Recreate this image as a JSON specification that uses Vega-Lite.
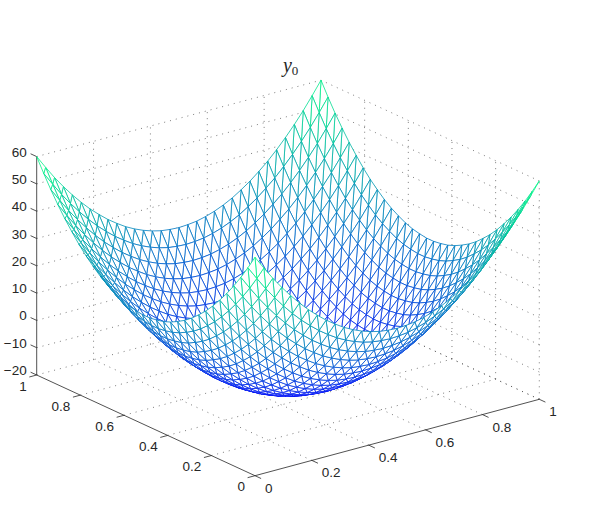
{"$schema":"https://vega.github.io/schema/vega-lite/v6.json","width":598,"height":532,"autosize":"none","padding":0,"background":"white","view":{"stroke":null},
"datasets":{
"lines":[
{"k":"g","u":0.2,"v":0,"w":-20,"u2":0.2,"v2":1,"w2":-20},{"k":"g","u":0.4,"v":0,"w":-20,"u2":0.4,"v2":1,"w2":-20},{"k":"g","u":0.6,"v":0,"w":-20,"u2":0.6,"v2":1,"w2":-20},{"k":"g","u":0.8,"v":0,"w":-20,"u2":0.8,"v2":1,"w2":-20},{"k":"g","u":1,"v":0,"w":-20,"u2":1,"v2":1,"w2":-20},
{"k":"g","u":0,"v":0.2,"w":-20,"u2":1,"v2":0.2,"w2":-20},{"k":"g","u":0,"v":0.4,"w":-20,"u2":1,"v2":0.4,"w2":-20},{"k":"g","u":0,"v":0.6,"w":-20,"u2":1,"v2":0.6,"w2":-20},{"k":"g","u":0,"v":0.8,"w":-20,"u2":1,"v2":0.8,"w2":-20},{"k":"g","u":0,"v":1,"w":-20,"u2":1,"v2":1,"w2":-20},
{"k":"g","u":0.2,"v":1,"w":-20,"u2":0.2,"v2":1,"w2":60},{"k":"g","u":0.4,"v":1,"w":-20,"u2":0.4,"v2":1,"w2":60},{"k":"g","u":0.6,"v":1,"w":-20,"u2":0.6,"v2":1,"w2":60},{"k":"g","u":0.8,"v":1,"w":-20,"u2":0.8,"v2":1,"w2":60},{"k":"g","u":1,"v":1,"w":-20,"u2":1,"v2":1,"w2":60},
{"k":"g","u":1,"v":0,"w":-20,"u2":1,"v2":0,"w2":60},{"k":"g","u":1,"v":0.2,"w":-20,"u2":1,"v2":0.2,"w2":60},{"k":"g","u":1,"v":0.4,"w":-20,"u2":1,"v2":0.4,"w2":60},{"k":"g","u":1,"v":0.6,"w":-20,"u2":1,"v2":0.6,"w2":60},{"k":"g","u":1,"v":0.8,"w":-20,"u2":1,"v2":0.8,"w2":60},
{"k":"g","u":0,"v":1,"w":-10,"u2":1,"v2":1,"w2":-10},{"k":"g","u":0,"v":1,"w":0,"u2":1,"v2":1,"w2":0},{"k":"g","u":0,"v":1,"w":10,"u2":1,"v2":1,"w2":10},{"k":"g","u":0,"v":1,"w":20,"u2":1,"v2":1,"w2":20},{"k":"g","u":0,"v":1,"w":30,"u2":1,"v2":1,"w2":30},{"k":"g","u":0,"v":1,"w":40,"u2":1,"v2":1,"w2":40},{"k":"g","u":0,"v":1,"w":50,"u2":1,"v2":1,"w2":50},{"k":"g","u":0,"v":1,"w":60,"u2":1,"v2":1,"w2":60},
{"k":"g","u":1,"v":0,"w":-20,"u2":1,"v2":1,"w2":-20},{"k":"g","u":1,"v":0,"w":-10,"u2":1,"v2":1,"w2":-10},{"k":"g","u":1,"v":0,"w":0,"u2":1,"v2":1,"w2":0},{"k":"g","u":1,"v":0,"w":10,"u2":1,"v2":1,"w2":10},{"k":"g","u":1,"v":0,"w":20,"u2":1,"v2":1,"w2":20},{"k":"g","u":1,"v":0,"w":30,"u2":1,"v2":1,"w2":30},{"k":"g","u":1,"v":0,"w":40,"u2":1,"v2":1,"w2":40},{"k":"g","u":1,"v":0,"w":50,"u2":1,"v2":1,"w2":50},{"k":"g","u":1,"v":0,"w":60,"u2":1,"v2":1,"w2":60},
{"k":"a","u":0,"v":0,"w":-20,"u2":1,"v2":0,"w2":-20},{"k":"a","u":0,"v":0,"w":-20,"u2":0,"v2":1,"w2":-20},{"k":"a","u":0,"v":1,"w":-20,"u2":0,"v2":1,"w2":60},
{"k":"a","u":0,"v":0,"w":-20,"u2":0,"v2":-0.028,"w2":-20},{"k":"a","u":0.2,"v":0,"w":-20,"u2":0.2,"v2":-0.028,"w2":-20},{"k":"a","u":0.4,"v":0,"w":-20,"u2":0.4,"v2":-0.028,"w2":-20},{"k":"a","u":0.6,"v":0,"w":-20,"u2":0.6,"v2":-0.028,"w2":-20},{"k":"a","u":0.8,"v":0,"w":-20,"u2":0.8,"v2":-0.028,"w2":-20},{"k":"a","u":1,"v":0,"w":-20,"u2":1,"v2":-0.028,"w2":-20},
{"k":"a","u":0,"v":0,"w":-20,"u2":-0.026,"v2":0,"w2":-20},{"k":"a","u":0,"v":0.2,"w":-20,"u2":-0.026,"v2":0.2,"w2":-20},{"k":"a","u":0,"v":0.4,"w":-20,"u2":-0.026,"v2":0.4,"w2":-20},{"k":"a","u":0,"v":0.6,"w":-20,"u2":-0.026,"v2":0.6,"w2":-20},{"k":"a","u":0,"v":0.8,"w":-20,"u2":-0.026,"v2":0.8,"w2":-20},{"k":"a","u":0,"v":1,"w":-20,"u2":-0.026,"v2":1,"w2":-20},
{"k":"a","u":0,"v":1,"w":-20,"u2":0,"v2":1.028,"w2":-20},{"k":"a","u":0,"v":1,"w":-10,"u2":0,"v2":1.028,"w2":-10},{"k":"a","u":0,"v":1,"w":0,"u2":0,"v2":1.028,"w2":0},{"k":"a","u":0,"v":1,"w":10,"u2":0,"v2":1.028,"w2":10},{"k":"a","u":0,"v":1,"w":20,"u2":0,"v2":1.028,"w2":20},{"k":"a","u":0,"v":1,"w":30,"u2":0,"v2":1.028,"w2":30},{"k":"a","u":0,"v":1,"w":40,"u2":0,"v2":1.028,"w2":40},{"k":"a","u":0,"v":1,"w":50,"u2":0,"v2":1.028,"w2":50},{"k":"a","u":0,"v":1,"w":60,"u2":0,"v2":1.028,"w2":60}
],
"labels":[
{"axis":"x","t":"0","u":0,"v":0,"w":-20},{"axis":"x","t":"0.2","u":0.2,"v":0,"w":-20},{"axis":"x","t":"0.4","u":0.4,"v":0,"w":-20},{"axis":"x","t":"0.6","u":0.6,"v":0,"w":-20},{"axis":"x","t":"0.8","u":0.8,"v":0,"w":-20},{"axis":"x","t":"1","u":1,"v":0,"w":-20},
{"axis":"y","t":"0","u":0,"v":0,"w":-20},{"axis":"y","t":"0.2","u":0,"v":0.2,"w":-20},{"axis":"y","t":"0.4","u":0,"v":0.4,"w":-20},{"axis":"y","t":"0.6","u":0,"v":0.6,"w":-20},{"axis":"y","t":"0.8","u":0,"v":0.8,"w":-20},{"axis":"y","t":"1","u":0,"v":1,"w":-20},
{"axis":"z","t":"−20","u":0,"v":1,"w":-20},{"axis":"z","t":"−10","u":0,"v":1,"w":-10},{"axis":"z","t":"0","u":0,"v":1,"w":0},{"axis":"z","t":"10","u":0,"v":1,"w":10},{"axis":"z","t":"20","u":0,"v":1,"w":20},{"axis":"z","t":"30","u":0,"v":1,"w":30},{"axis":"z","t":"40","u":0,"v":1,"w":40},{"axis":"z","t":"50","u":0,"v":1,"w":50},{"axis":"z","t":"60","u":0,"v":1,"w":60},
{"axis":"t","t":"y","u":1,"v":1,"w":66},{"axis":"s","t":"0","u":1,"v":1,"w":66}
],
"grid":[
{"i":32,"j":31,"z":60},{"i":32,"j":30,"z":55},{"i":32,"j":29,"z":50.3},{"i":32,"j":28,"z":46},{"i":32,"j":27,"z":42},{"i":32,"j":26,"z":38.4},{"i":32,"j":25,"z":35},{"i":32,"j":24,"z":32},{"i":32,"j":23,"z":29.4},{"i":32,"j":22,"z":27},{"i":32,"j":21,"z":25},{"i":32,"j":20,"z":23.4},{"i":32,"j":19,"z":22},{"i":32,"j":18,"z":21},{"i":32,"j":17,"z":20.4},{"i":32,"j":16,"z":20},{"i":32,"j":15,"z":20},{"i":32,"j":14,"z":20.4},{"i":32,"j":13,"z":21},{"i":32,"j":12,"z":22},{"i":32,"j":11,"z":23.4},{"i":32,"j":10,"z":25},{"i":32,"j":9,"z":27},{"i":32,"j":8,"z":29.4},{"i":32,"j":7,"z":32},{"i":32,"j":6,"z":35},{"i":32,"j":5,"z":38.4},{"i":32,"j":4,"z":42},{"i":32,"j":3,"z":46},{"i":32,"j":2,"z":50.3},{"i":32,"j":1,"z":55},{"i":32,"j":0,"z":60},
{"i":31,"j":31,"z":55.2},{"i":31,"j":30,"z":50.2},{"i":31,"j":29,"z":45.5},{"i":31,"j":28,"z":41.2},{"i":31,"j":27,"z":37.2},{"i":31,"j":26,"z":33.6},{"i":31,"j":25,"z":30.2},{"i":31,"j":24,"z":27.2},{"i":31,"j":23,"z":24.6},{"i":31,"j":22,"z":22.2},{"i":31,"j":21,"z":20.2},{"i":31,"j":20,"z":18.6},{"i":31,"j":19,"z":17.2},{"i":31,"j":18,"z":16.2},{"i":31,"j":17,"z":15.6},{"i":31,"j":16,"z":15.2},{"i":31,"j":15,"z":15.2},{"i":31,"j":14,"z":15.6},{"i":31,"j":13,"z":16.2},{"i":31,"j":12,"z":17.2},{"i":31,"j":11,"z":18.6},{"i":31,"j":10,"z":20.2},{"i":31,"j":9,"z":22.2},{"i":31,"j":8,"z":24.6},{"i":31,"j":7,"z":27.2},{"i":31,"j":6,"z":30.2},{"i":31,"j":5,"z":33.6},{"i":31,"j":4,"z":37.2},{"i":31,"j":3,"z":41.2},{"i":31,"j":2,"z":45.5},{"i":31,"j":1,"z":50.2},{"i":31,"j":0,"z":55.2},
{"i":30,"j":31,"z":50.6},{"i":30,"j":30,"z":45.6},{"i":30,"j":29,"z":40.9},{"i":30,"j":28,"z":36.6},{"i":30,"j":27,"z":32.6},{"i":30,"j":26,"z":29},{"i":30,"j":25,"z":25.6},{"i":30,"j":24,"z":22.6},{"i":30,"j":23,"z":20},{"i":30,"j":22,"z":17.6},{"i":30,"j":21,"z":15.6},{"i":30,"j":20,"z":14},{"i":30,"j":19,"z":12.6},{"i":30,"j":18,"z":11.6},{"i":30,"j":17,"z":11},{"i":30,"j":16,"z":10.6},{"i":30,"j":15,"z":10.6},{"i":30,"j":14,"z":11},{"i":30,"j":13,"z":11.6},{"i":30,"j":12,"z":12.6},{"i":30,"j":11,"z":14},{"i":30,"j":10,"z":15.6},{"i":30,"j":9,"z":17.6},{"i":30,"j":8,"z":20},{"i":30,"j":7,"z":22.6},{"i":30,"j":6,"z":25.6},{"i":30,"j":5,"z":29},{"i":30,"j":4,"z":32.6},{"i":30,"j":3,"z":36.6},{"i":30,"j":2,"z":40.9},{"i":30,"j":1,"z":45.6},{"i":30,"j":0,"z":50.6},
{"i":29,"j":31,"z":46.4},{"i":29,"j":30,"z":41.4},{"i":29,"j":29,"z":36.7},{"i":29,"j":28,"z":32.4},{"i":29,"j":27,"z":28.4},{"i":29,"j":26,"z":24.8},{"i":29,"j":25,"z":21.4},{"i":29,"j":24,"z":18.4},{"i":29,"j":23,"z":15.8},{"i":29,"j":22,"z":13.4},{"i":29,"j":21,"z":11.4},{"i":29,"j":20,"z":9.8},{"i":29,"j":19,"z":8.4},{"i":29,"j":18,"z":7.4},{"i":29,"j":17,"z":6.8},{"i":29,"j":16,"z":6.4},{"i":29,"j":15,"z":6.4},{"i":29,"j":14,"z":6.8},{"i":29,"j":13,"z":7.4},{"i":29,"j":12,"z":8.4},{"i":29,"j":11,"z":9.8},{"i":29,"j":10,"z":11.4},{"i":29,"j":9,"z":13.4},{"i":29,"j":8,"z":15.8},{"i":29,"j":7,"z":18.4},{"i":29,"j":6,"z":21.4},{"i":29,"j":5,"z":24.8},{"i":29,"j":4,"z":28.4},{"i":29,"j":3,"z":32.4},{"i":29,"j":2,"z":36.7},{"i":29,"j":1,"z":41.4},{"i":29,"j":0,"z":46.4},
{"i":28,"j":31,"z":42.5},{"i":28,"j":30,"z":37.5},{"i":28,"j":29,"z":32.8},{"i":28,"j":28,"z":28.5},{"i":28,"j":27,"z":24.5},{"i":28,"j":26,"z":20.9},{"i":28,"j":25,"z":17.5},{"i":28,"j":24,"z":14.5},{"i":28,"j":23,"z":11.9},{"i":28,"j":22,"z":9.5},{"i":28,"j":21,"z":7.5},{"i":28,"j":20,"z":5.9},{"i":28,"j":19,"z":4.5},{"i":28,"j":18,"z":3.5},{"i":28,"j":17,"z":2.9},{"i":28,"j":16,"z":2.5},{"i":28,"j":15,"z":2.5},{"i":28,"j":14,"z":2.9},{"i":28,"j":13,"z":3.5},{"i":28,"j":12,"z":4.5},{"i":28,"j":11,"z":5.9},{"i":28,"j":10,"z":7.5},{"i":28,"j":9,"z":9.5},{"i":28,"j":8,"z":11.9},{"i":28,"j":7,"z":14.5},{"i":28,"j":6,"z":17.5},{"i":28,"j":5,"z":20.9},{"i":28,"j":4,"z":24.5},{"i":28,"j":3,"z":28.5},{"i":28,"j":2,"z":32.8},{"i":28,"j":1,"z":37.5},{"i":28,"j":0,"z":42.5},
{"i":27,"j":31,"z":38.9},{"i":27,"j":30,"z":33.9},{"i":27,"j":29,"z":29.2},{"i":27,"j":28,"z":24.9},{"i":27,"j":27,"z":20.9},{"i":27,"j":26,"z":17.3},{"i":27,"j":25,"z":13.9},{"i":27,"j":24,"z":10.9},{"i":27,"j":23,"z":8.3},{"i":27,"j":22,"z":5.9},{"i":27,"j":21,"z":3.9},{"i":27,"j":20,"z":2.3},{"i":27,"j":19,"z":0.9},{"i":27,"j":18,"z":-0.1},{"i":27,"j":17,"z":-0.7},{"i":27,"j":16,"z":-1.1},{"i":27,"j":15,"z":-1.1},{"i":27,"j":14,"z":-0.7},{"i":27,"j":13,"z":-0.1},{"i":27,"j":12,"z":0.9},{"i":27,"j":11,"z":2.3},{"i":27,"j":10,"z":3.9},{"i":27,"j":9,"z":5.9},{"i":27,"j":8,"z":8.3},{"i":27,"j":7,"z":10.9},{"i":27,"j":6,"z":13.9},{"i":27,"j":5,"z":17.3},{"i":27,"j":4,"z":20.9},{"i":27,"j":3,"z":24.9},{"i":27,"j":2,"z":29.2},{"i":27,"j":1,"z":33.9},{"i":27,"j":0,"z":38.9},
{"i":26,"j":31,"z":35.6},{"i":26,"j":30,"z":30.6},{"i":26,"j":29,"z":25.9},{"i":26,"j":28,"z":21.6},{"i":26,"j":27,"z":17.6},{"i":26,"j":26,"z":14},{"i":26,"j":25,"z":10.6},{"i":26,"j":24,"z":7.6},{"i":26,"j":23,"z":5},{"i":26,"j":22,"z":2.6},{"i":26,"j":21,"z":0.6},{"i":26,"j":20,"z":-1},{"i":26,"j":19,"z":-2.4},{"i":26,"j":18,"z":-3.4},{"i":26,"j":17,"z":-4},{"i":26,"j":16,"z":-4.4},{"i":26,"j":15,"z":-4.4},{"i":26,"j":14,"z":-4},{"i":26,"j":13,"z":-3.4},{"i":26,"j":12,"z":-2.4},{"i":26,"j":11,"z":-1},{"i":26,"j":10,"z":0.6},{"i":26,"j":9,"z":2.6},{"i":26,"j":8,"z":5},{"i":26,"j":7,"z":7.6},{"i":26,"j":6,"z":10.6},{"i":26,"j":5,"z":14},{"i":26,"j":4,"z":17.6},{"i":26,"j":3,"z":21.6},{"i":26,"j":2,"z":25.9},{"i":26,"j":1,"z":30.6},{"i":26,"j":0,"z":35.6},
{"i":25,"j":31,"z":32.7},{"i":25,"j":30,"z":27.7},{"i":25,"j":29,"z":23},{"i":25,"j":28,"z":18.7},{"i":25,"j":27,"z":14.7},{"i":25,"j":26,"z":11.1},{"i":25,"j":25,"z":7.7},{"i":25,"j":24,"z":4.7},{"i":25,"j":23,"z":2.1},{"i":25,"j":22,"z":-0.3},{"i":25,"j":21,"z":-2.3},{"i":25,"j":20,"z":-3.9},{"i":25,"j":19,"z":-5.3},{"i":25,"j":18,"z":-6.3},{"i":25,"j":17,"z":-6.9},{"i":25,"j":16,"z":-7.3},{"i":25,"j":15,"z":-7.3},{"i":25,"j":14,"z":-6.9},{"i":25,"j":13,"z":-6.3},{"i":25,"j":12,"z":-5.3},{"i":25,"j":11,"z":-3.9},{"i":25,"j":10,"z":-2.3},{"i":25,"j":9,"z":-0.3},{"i":25,"j":8,"z":2.1},{"i":25,"j":7,"z":4.7},{"i":25,"j":6,"z":7.7},{"i":25,"j":5,"z":11.1},{"i":25,"j":4,"z":14.7},{"i":25,"j":3,"z":18.7},{"i":25,"j":2,"z":23},{"i":25,"j":1,"z":27.7},{"i":25,"j":0,"z":32.7},
{"i":24,"j":31,"z":30},{"i":24,"j":30,"z":25},{"i":24,"j":29,"z":20.3},{"i":24,"j":28,"z":16},{"i":24,"j":27,"z":12},{"i":24,"j":26,"z":8.4},{"i":24,"j":25,"z":5},{"i":24,"j":24,"z":2},{"i":24,"j":23,"z":-0.6},{"i":24,"j":22,"z":-3},{"i":24,"j":21,"z":-5},{"i":24,"j":20,"z":-6.6},{"i":24,"j":19,"z":-8},{"i":24,"j":18,"z":-9},{"i":24,"j":17,"z":-9.6},{"i":24,"j":16,"z":-10},{"i":24,"j":15,"z":-10},{"i":24,"j":14,"z":-9.6},{"i":24,"j":13,"z":-9},{"i":24,"j":12,"z":-8},{"i":24,"j":11,"z":-6.6},{"i":24,"j":10,"z":-5},{"i":24,"j":9,"z":-3},{"i":24,"j":8,"z":-0.6},{"i":24,"j":7,"z":2},{"i":24,"j":6,"z":5},{"i":24,"j":5,"z":8.4},{"i":24,"j":4,"z":12},{"i":24,"j":3,"z":16},{"i":24,"j":2,"z":20.3},{"i":24,"j":1,"z":25},{"i":24,"j":0,"z":30},
{"i":23,"j":31,"z":27.7},{"i":23,"j":30,"z":22.7},{"i":23,"j":29,"z":18},{"i":23,"j":28,"z":13.7},{"i":23,"j":27,"z":9.7},{"i":23,"j":26,"z":6.1},{"i":23,"j":25,"z":2.7},{"i":23,"j":24,"z":-0.3},{"i":23,"j":23,"z":-2.9},{"i":23,"j":22,"z":-5.3},{"i":23,"j":21,"z":-7.3},{"i":23,"j":20,"z":-8.9},{"i":23,"j":19,"z":-10.3},{"i":23,"j":18,"z":-11.3},{"i":23,"j":17,"z":-11.9},{"i":23,"j":16,"z":-12.3},{"i":23,"j":15,"z":-12.3},{"i":23,"j":14,"z":-11.9},{"i":23,"j":13,"z":-11.3},{"i":23,"j":12,"z":-10.3},{"i":23,"j":11,"z":-8.9},{"i":23,"j":10,"z":-7.3},{"i":23,"j":9,"z":-5.3},{"i":23,"j":8,"z":-2.9},{"i":23,"j":7,"z":-0.3},{"i":23,"j":6,"z":2.7},{"i":23,"j":5,"z":6.1},{"i":23,"j":4,"z":9.7},{"i":23,"j":3,"z":13.7},{"i":23,"j":2,"z":18},{"i":23,"j":1,"z":22.7},{"i":23,"j":0,"z":27.7},
{"i":22,"j":31,"z":25.6},{"i":22,"j":30,"z":20.6},{"i":22,"j":29,"z":15.9},{"i":22,"j":28,"z":11.6},{"i":22,"j":27,"z":7.6},{"i":22,"j":26,"z":4},{"i":22,"j":25,"z":0.6},{"i":22,"j":24,"z":-2.4},{"i":22,"j":23,"z":-5},{"i":22,"j":22,"z":-7.4},{"i":22,"j":21,"z":-9.4},{"i":22,"j":20,"z":-11},{"i":22,"j":19,"z":-12.4},{"i":22,"j":18,"z":-13.4},{"i":22,"j":17,"z":-14},{"i":22,"j":16,"z":-14.4},{"i":22,"j":15,"z":-14.4},{"i":22,"j":14,"z":-14},{"i":22,"j":13,"z":-13.4},{"i":22,"j":12,"z":-12.4},{"i":22,"j":11,"z":-11},{"i":22,"j":10,"z":-9.4},{"i":22,"j":9,"z":-7.4},{"i":22,"j":8,"z":-5},{"i":22,"j":7,"z":-2.4},{"i":22,"j":6,"z":0.6},{"i":22,"j":5,"z":4},{"i":22,"j":4,"z":7.6},{"i":22,"j":3,"z":11.6},{"i":22,"j":2,"z":15.9},{"i":22,"j":1,"z":20.6},{"i":22,"j":0,"z":25.6},
{"i":21,"j":31,"z":23.9},{"i":21,"j":30,"z":18.9},{"i":21,"j":29,"z":14.2},{"i":21,"j":28,"z":9.9},{"i":21,"j":27,"z":5.9},{"i":21,"j":26,"z":2.3},{"i":21,"j":25,"z":-1.1},{"i":21,"j":24,"z":-4.1},{"i":21,"j":23,"z":-6.7},{"i":21,"j":22,"z":-9.1},{"i":21,"j":21,"z":-11.1},{"i":21,"j":20,"z":-12.7},{"i":21,"j":19,"z":-14.1},{"i":21,"j":18,"z":-15.1},{"i":21,"j":17,"z":-15.7},{"i":21,"j":16,"z":-16.1},{"i":21,"j":15,"z":-16.1},{"i":21,"j":14,"z":-15.7},{"i":21,"j":13,"z":-15.1},{"i":21,"j":12,"z":-14.1},{"i":21,"j":11,"z":-12.7},{"i":21,"j":10,"z":-11.1},{"i":21,"j":9,"z":-9.1},{"i":21,"j":8,"z":-6.7},{"i":21,"j":7,"z":-4.1},{"i":21,"j":6,"z":-1.1},{"i":21,"j":5,"z":2.3},{"i":21,"j":4,"z":5.9},{"i":21,"j":3,"z":9.9},{"i":21,"j":2,"z":14.2},{"i":21,"j":1,"z":18.9},{"i":21,"j":0,"z":23.9},
{"i":20,"j":31,"z":22.5},{"i":20,"j":30,"z":17.5},{"i":20,"j":29,"z":12.8},{"i":20,"j":28,"z":8.5},{"i":20,"j":27,"z":4.5},{"i":20,"j":26,"z":0.9},{"i":20,"j":25,"z":-2.5},{"i":20,"j":24,"z":-5.5},{"i":20,"j":23,"z":-8.1},{"i":20,"j":22,"z":-10.5},{"i":20,"j":21,"z":-12.5},{"i":20,"j":20,"z":-14.1},{"i":20,"j":19,"z":-15.5},{"i":20,"j":18,"z":-16.5},{"i":20,"j":17,"z":-17.1},{"i":20,"j":16,"z":-17.5},{"i":20,"j":15,"z":-17.5},{"i":20,"j":14,"z":-17.1},{"i":20,"j":13,"z":-16.5},{"i":20,"j":12,"z":-15.5},{"i":20,"j":11,"z":-14.1},{"i":20,"j":10,"z":-12.5},{"i":20,"j":9,"z":-10.5},{"i":20,"j":8,"z":-8.1},{"i":20,"j":7,"z":-5.5},{"i":20,"j":6,"z":-2.5},{"i":20,"j":5,"z":0.9},{"i":20,"j":4,"z":4.5},{"i":20,"j":3,"z":8.5},{"i":20,"j":2,"z":12.8},{"i":20,"j":1,"z":17.5},{"i":20,"j":0,"z":22.5},
{"i":19,"j":31,"z":21.4},{"i":19,"j":30,"z":16.4},{"i":19,"j":29,"z":11.7},{"i":19,"j":28,"z":7.4},{"i":19,"j":27,"z":3.4},{"i":19,"j":26,"z":-0.2},{"i":19,"j":25,"z":-3.6},{"i":19,"j":24,"z":-6.6},{"i":19,"j":23,"z":-9.2},{"i":19,"j":22,"z":-11.6},{"i":19,"j":21,"z":-13.6},{"i":19,"j":20,"z":-15.2},{"i":19,"j":19,"z":-16.6},{"i":19,"j":18,"z":-17.6},{"i":19,"j":17,"z":-18.2},{"i":19,"j":16,"z":-18.6},{"i":19,"j":15,"z":-18.6},{"i":19,"j":14,"z":-18.2},{"i":19,"j":13,"z":-17.6},{"i":19,"j":12,"z":-16.6},{"i":19,"j":11,"z":-15.2},{"i":19,"j":10,"z":-13.6},{"i":19,"j":9,"z":-11.6},{"i":19,"j":8,"z":-9.2},{"i":19,"j":7,"z":-6.6},{"i":19,"j":6,"z":-3.6},{"i":19,"j":5,"z":-0.2},{"i":19,"j":4,"z":3.4},{"i":19,"j":3,"z":7.4},{"i":19,"j":2,"z":11.7},{"i":19,"j":1,"z":16.4},{"i":19,"j":0,"z":21.4},
{"i":18,"j":31,"z":20.6},{"i":18,"j":30,"z":15.6},{"i":18,"j":29,"z":10.9},{"i":18,"j":28,"z":6.6},{"i":18,"j":27,"z":2.6},{"i":18,"j":26,"z":-1},{"i":18,"j":25,"z":-4.4},{"i":18,"j":24,"z":-7.4},{"i":18,"j":23,"z":-10},{"i":18,"j":22,"z":-12.4},{"i":18,"j":21,"z":-14.4},{"i":18,"j":20,"z":-16},{"i":18,"j":19,"z":-17.4},{"i":18,"j":18,"z":-18.4},{"i":18,"j":17,"z":-19},{"i":18,"j":16,"z":-19.4},{"i":18,"j":15,"z":-19.4},{"i":18,"j":14,"z":-19},{"i":18,"j":13,"z":-18.4},{"i":18,"j":12,"z":-17.4},{"i":18,"j":11,"z":-16},{"i":18,"j":10,"z":-14.4},{"i":18,"j":9,"z":-12.4},{"i":18,"j":8,"z":-10},{"i":18,"j":7,"z":-7.4},{"i":18,"j":6,"z":-4.4},{"i":18,"j":5,"z":-1},{"i":18,"j":4,"z":2.6},{"i":18,"j":3,"z":6.6},{"i":18,"j":2,"z":10.9},{"i":18,"j":1,"z":15.6},{"i":18,"j":0,"z":20.6},
{"i":17,"j":31,"z":20.2},{"i":17,"j":30,"z":15.2},{"i":17,"j":29,"z":10.5},{"i":17,"j":28,"z":6.2},{"i":17,"j":27,"z":2.2},{"i":17,"j":26,"z":-1.4},{"i":17,"j":25,"z":-4.8},{"i":17,"j":24,"z":-7.8},{"i":17,"j":23,"z":-10.4},{"i":17,"j":22,"z":-12.8},{"i":17,"j":21,"z":-14.8},{"i":17,"j":20,"z":-16.4},{"i":17,"j":19,"z":-17.8},{"i":17,"j":18,"z":-18.8},{"i":17,"j":17,"z":-19.4},{"i":17,"j":16,"z":-19.8},{"i":17,"j":15,"z":-19.8},{"i":17,"j":14,"z":-19.4},{"i":17,"j":13,"z":-18.8},{"i":17,"j":12,"z":-17.8},{"i":17,"j":11,"z":-16.4},{"i":17,"j":10,"z":-14.8},{"i":17,"j":9,"z":-12.8},{"i":17,"j":8,"z":-10.4},{"i":17,"j":7,"z":-7.8},{"i":17,"j":6,"z":-4.8},{"i":17,"j":5,"z":-1.4},{"i":17,"j":4,"z":2.2},{"i":17,"j":3,"z":6.2},{"i":17,"j":2,"z":10.5},{"i":17,"j":1,"z":15.2},{"i":17,"j":0,"z":20.2},
{"i":16,"j":31,"z":20},{"i":16,"j":30,"z":15},{"i":16,"j":29,"z":10.3},{"i":16,"j":28,"z":6},{"i":16,"j":27,"z":2},{"i":16,"j":26,"z":-1.6},{"i":16,"j":25,"z":-5},{"i":16,"j":24,"z":-8},{"i":16,"j":23,"z":-10.6},{"i":16,"j":22,"z":-13},{"i":16,"j":21,"z":-15},{"i":16,"j":20,"z":-16.6},{"i":16,"j":19,"z":-18},{"i":16,"j":18,"z":-19},{"i":16,"j":17,"z":-19.6},{"i":16,"j":16,"z":-20},{"i":16,"j":15,"z":-20},{"i":16,"j":14,"z":-19.6},{"i":16,"j":13,"z":-19},{"i":16,"j":12,"z":-18},{"i":16,"j":11,"z":-16.6},{"i":16,"j":10,"z":-15},{"i":16,"j":9,"z":-13},{"i":16,"j":8,"z":-10.6},{"i":16,"j":7,"z":-8},{"i":16,"j":6,"z":-5},{"i":16,"j":5,"z":-1.6},{"i":16,"j":4,"z":2},{"i":16,"j":3,"z":6},{"i":16,"j":2,"z":10.3},{"i":16,"j":1,"z":15},{"i":16,"j":0,"z":20},
{"i":15,"j":31,"z":20.2},{"i":15,"j":30,"z":15.2},{"i":15,"j":29,"z":10.5},{"i":15,"j":28,"z":6.2},{"i":15,"j":27,"z":2.2},{"i":15,"j":26,"z":-1.4},{"i":15,"j":25,"z":-4.8},{"i":15,"j":24,"z":-7.8},{"i":15,"j":23,"z":-10.4},{"i":15,"j":22,"z":-12.8},{"i":15,"j":21,"z":-14.8},{"i":15,"j":20,"z":-16.4},{"i":15,"j":19,"z":-17.8},{"i":15,"j":18,"z":-18.8},{"i":15,"j":17,"z":-19.4},{"i":15,"j":16,"z":-19.8},{"i":15,"j":15,"z":-19.8},{"i":15,"j":14,"z":-19.4},{"i":15,"j":13,"z":-18.8},{"i":15,"j":12,"z":-17.8},{"i":15,"j":11,"z":-16.4},{"i":15,"j":10,"z":-14.8},{"i":15,"j":9,"z":-12.8},{"i":15,"j":8,"z":-10.4},{"i":15,"j":7,"z":-7.8},{"i":15,"j":6,"z":-4.8},{"i":15,"j":5,"z":-1.4},{"i":15,"j":4,"z":2.2},{"i":15,"j":3,"z":6.2},{"i":15,"j":2,"z":10.5},{"i":15,"j":1,"z":15.2},{"i":15,"j":0,"z":20.2},
{"i":14,"j":31,"z":20.6},{"i":14,"j":30,"z":15.6},{"i":14,"j":29,"z":10.9},{"i":14,"j":28,"z":6.6},{"i":14,"j":27,"z":2.6},{"i":14,"j":26,"z":-1},{"i":14,"j":25,"z":-4.4},{"i":14,"j":24,"z":-7.4},{"i":14,"j":23,"z":-10},{"i":14,"j":22,"z":-12.4},{"i":14,"j":21,"z":-14.4},{"i":14,"j":20,"z":-16},{"i":14,"j":19,"z":-17.4},{"i":14,"j":18,"z":-18.4},{"i":14,"j":17,"z":-19},{"i":14,"j":16,"z":-19.4},{"i":14,"j":15,"z":-19.4},{"i":14,"j":14,"z":-19},{"i":14,"j":13,"z":-18.4},{"i":14,"j":12,"z":-17.4},{"i":14,"j":11,"z":-16},{"i":14,"j":10,"z":-14.4},{"i":14,"j":9,"z":-12.4},{"i":14,"j":8,"z":-10},{"i":14,"j":7,"z":-7.4},{"i":14,"j":6,"z":-4.4},{"i":14,"j":5,"z":-1},{"i":14,"j":4,"z":2.6},{"i":14,"j":3,"z":6.6},{"i":14,"j":2,"z":10.9},{"i":14,"j":1,"z":15.6},{"i":14,"j":0,"z":20.6},
{"i":13,"j":31,"z":21.4},{"i":13,"j":30,"z":16.4},{"i":13,"j":29,"z":11.7},{"i":13,"j":28,"z":7.4},{"i":13,"j":27,"z":3.4},{"i":13,"j":26,"z":-0.2},{"i":13,"j":25,"z":-3.6},{"i":13,"j":24,"z":-6.6},{"i":13,"j":23,"z":-9.2},{"i":13,"j":22,"z":-11.6},{"i":13,"j":21,"z":-13.6},{"i":13,"j":20,"z":-15.2},{"i":13,"j":19,"z":-16.6},{"i":13,"j":18,"z":-17.6},{"i":13,"j":17,"z":-18.2},{"i":13,"j":16,"z":-18.6},{"i":13,"j":15,"z":-18.6},{"i":13,"j":14,"z":-18.2},{"i":13,"j":13,"z":-17.6},{"i":13,"j":12,"z":-16.6},{"i":13,"j":11,"z":-15.2},{"i":13,"j":10,"z":-13.6},{"i":13,"j":9,"z":-11.6},{"i":13,"j":8,"z":-9.2},{"i":13,"j":7,"z":-6.6},{"i":13,"j":6,"z":-3.6},{"i":13,"j":5,"z":-0.2},{"i":13,"j":4,"z":3.4},{"i":13,"j":3,"z":7.4},{"i":13,"j":2,"z":11.7},{"i":13,"j":1,"z":16.4},{"i":13,"j":0,"z":21.4},
{"i":12,"j":31,"z":22.5},{"i":12,"j":30,"z":17.5},{"i":12,"j":29,"z":12.8},{"i":12,"j":28,"z":8.5},{"i":12,"j":27,"z":4.5},{"i":12,"j":26,"z":0.9},{"i":12,"j":25,"z":-2.5},{"i":12,"j":24,"z":-5.5},{"i":12,"j":23,"z":-8.1},{"i":12,"j":22,"z":-10.5},{"i":12,"j":21,"z":-12.5},{"i":12,"j":20,"z":-14.1},{"i":12,"j":19,"z":-15.5},{"i":12,"j":18,"z":-16.5},{"i":12,"j":17,"z":-17.1},{"i":12,"j":16,"z":-17.5},{"i":12,"j":15,"z":-17.5},{"i":12,"j":14,"z":-17.1},{"i":12,"j":13,"z":-16.5},{"i":12,"j":12,"z":-15.5},{"i":12,"j":11,"z":-14.1},{"i":12,"j":10,"z":-12.5},{"i":12,"j":9,"z":-10.5},{"i":12,"j":8,"z":-8.1},{"i":12,"j":7,"z":-5.5},{"i":12,"j":6,"z":-2.5},{"i":12,"j":5,"z":0.9},{"i":12,"j":4,"z":4.5},{"i":12,"j":3,"z":8.5},{"i":12,"j":2,"z":12.8},{"i":12,"j":1,"z":17.5},{"i":12,"j":0,"z":22.5},
{"i":11,"j":31,"z":23.9},{"i":11,"j":30,"z":18.9},{"i":11,"j":29,"z":14.2},{"i":11,"j":28,"z":9.9},{"i":11,"j":27,"z":5.9},{"i":11,"j":26,"z":2.3},{"i":11,"j":25,"z":-1.1},{"i":11,"j":24,"z":-4.1},{"i":11,"j":23,"z":-6.7},{"i":11,"j":22,"z":-9.1},{"i":11,"j":21,"z":-11.1},{"i":11,"j":20,"z":-12.7},{"i":11,"j":19,"z":-14.1},{"i":11,"j":18,"z":-15.1},{"i":11,"j":17,"z":-15.7},{"i":11,"j":16,"z":-16.1},{"i":11,"j":15,"z":-16.1},{"i":11,"j":14,"z":-15.7},{"i":11,"j":13,"z":-15.1},{"i":11,"j":12,"z":-14.1},{"i":11,"j":11,"z":-12.7},{"i":11,"j":10,"z":-11.1},{"i":11,"j":9,"z":-9.1},{"i":11,"j":8,"z":-6.7},{"i":11,"j":7,"z":-4.1},{"i":11,"j":6,"z":-1.1},{"i":11,"j":5,"z":2.3},{"i":11,"j":4,"z":5.9},{"i":11,"j":3,"z":9.9},{"i":11,"j":2,"z":14.2},{"i":11,"j":1,"z":18.9},{"i":11,"j":0,"z":23.9},
{"i":10,"j":31,"z":25.6},{"i":10,"j":30,"z":20.6},{"i":10,"j":29,"z":15.9},{"i":10,"j":28,"z":11.6},{"i":10,"j":27,"z":7.6},{"i":10,"j":26,"z":4},{"i":10,"j":25,"z":0.6},{"i":10,"j":24,"z":-2.4},{"i":10,"j":23,"z":-5},{"i":10,"j":22,"z":-7.4},{"i":10,"j":21,"z":-9.4},{"i":10,"j":20,"z":-11},{"i":10,"j":19,"z":-12.4},{"i":10,"j":18,"z":-13.4},{"i":10,"j":17,"z":-14},{"i":10,"j":16,"z":-14.4},{"i":10,"j":15,"z":-14.4},{"i":10,"j":14,"z":-14},{"i":10,"j":13,"z":-13.4},{"i":10,"j":12,"z":-12.4},{"i":10,"j":11,"z":-11},{"i":10,"j":10,"z":-9.4},{"i":10,"j":9,"z":-7.4},{"i":10,"j":8,"z":-5},{"i":10,"j":7,"z":-2.4},{"i":10,"j":6,"z":0.6},{"i":10,"j":5,"z":4},{"i":10,"j":4,"z":7.6},{"i":10,"j":3,"z":11.6},{"i":10,"j":2,"z":15.9},{"i":10,"j":1,"z":20.6},{"i":10,"j":0,"z":25.6},
{"i":9,"j":31,"z":27.7},{"i":9,"j":30,"z":22.7},{"i":9,"j":29,"z":18},{"i":9,"j":28,"z":13.7},{"i":9,"j":27,"z":9.7},{"i":9,"j":26,"z":6.1},{"i":9,"j":25,"z":2.7},{"i":9,"j":24,"z":-0.3},{"i":9,"j":23,"z":-2.9},{"i":9,"j":22,"z":-5.3},{"i":9,"j":21,"z":-7.3},{"i":9,"j":20,"z":-8.9},{"i":9,"j":19,"z":-10.3},{"i":9,"j":18,"z":-11.3},{"i":9,"j":17,"z":-11.9},{"i":9,"j":16,"z":-12.3},{"i":9,"j":15,"z":-12.3},{"i":9,"j":14,"z":-11.9},{"i":9,"j":13,"z":-11.3},{"i":9,"j":12,"z":-10.3},{"i":9,"j":11,"z":-8.9},{"i":9,"j":10,"z":-7.3},{"i":9,"j":9,"z":-5.3},{"i":9,"j":8,"z":-2.9},{"i":9,"j":7,"z":-0.3},{"i":9,"j":6,"z":2.7},{"i":9,"j":5,"z":6.1},{"i":9,"j":4,"z":9.7},{"i":9,"j":3,"z":13.7},{"i":9,"j":2,"z":18},{"i":9,"j":1,"z":22.7},{"i":9,"j":0,"z":27.7},
{"i":8,"j":31,"z":30},{"i":8,"j":30,"z":25},{"i":8,"j":29,"z":20.3},{"i":8,"j":28,"z":16},{"i":8,"j":27,"z":12},{"i":8,"j":26,"z":8.4},{"i":8,"j":25,"z":5},{"i":8,"j":24,"z":2},{"i":8,"j":23,"z":-0.6},{"i":8,"j":22,"z":-3},{"i":8,"j":21,"z":-5},{"i":8,"j":20,"z":-6.6},{"i":8,"j":19,"z":-8},{"i":8,"j":18,"z":-9},{"i":8,"j":17,"z":-9.6},{"i":8,"j":16,"z":-10},{"i":8,"j":15,"z":-10},{"i":8,"j":14,"z":-9.6},{"i":8,"j":13,"z":-9},{"i":8,"j":12,"z":-8},{"i":8,"j":11,"z":-6.6},{"i":8,"j":10,"z":-5},{"i":8,"j":9,"z":-3},{"i":8,"j":8,"z":-0.6},{"i":8,"j":7,"z":2},{"i":8,"j":6,"z":5},{"i":8,"j":5,"z":8.4},{"i":8,"j":4,"z":12},{"i":8,"j":3,"z":16},{"i":8,"j":2,"z":20.3},{"i":8,"j":1,"z":25},{"i":8,"j":0,"z":30},
{"i":7,"j":31,"z":32.7},{"i":7,"j":30,"z":27.7},{"i":7,"j":29,"z":23},{"i":7,"j":28,"z":18.7},{"i":7,"j":27,"z":14.7},{"i":7,"j":26,"z":11.1},{"i":7,"j":25,"z":7.7},{"i":7,"j":24,"z":4.7},{"i":7,"j":23,"z":2.1},{"i":7,"j":22,"z":-0.3},{"i":7,"j":21,"z":-2.3},{"i":7,"j":20,"z":-3.9},{"i":7,"j":19,"z":-5.3},{"i":7,"j":18,"z":-6.3},{"i":7,"j":17,"z":-6.9},{"i":7,"j":16,"z":-7.3},{"i":7,"j":15,"z":-7.3},{"i":7,"j":14,"z":-6.9},{"i":7,"j":13,"z":-6.3},{"i":7,"j":12,"z":-5.3},{"i":7,"j":11,"z":-3.9},{"i":7,"j":10,"z":-2.3},{"i":7,"j":9,"z":-0.3},{"i":7,"j":8,"z":2.1},{"i":7,"j":7,"z":4.7},{"i":7,"j":6,"z":7.7},{"i":7,"j":5,"z":11.1},{"i":7,"j":4,"z":14.7},{"i":7,"j":3,"z":18.7},{"i":7,"j":2,"z":23},{"i":7,"j":1,"z":27.7},{"i":7,"j":0,"z":32.7},
{"i":6,"j":31,"z":35.6},{"i":6,"j":30,"z":30.6},{"i":6,"j":29,"z":25.9},{"i":6,"j":28,"z":21.6},{"i":6,"j":27,"z":17.6},{"i":6,"j":26,"z":14},{"i":6,"j":25,"z":10.6},{"i":6,"j":24,"z":7.6},{"i":6,"j":23,"z":5},{"i":6,"j":22,"z":2.6},{"i":6,"j":21,"z":0.6},{"i":6,"j":20,"z":-1},{"i":6,"j":19,"z":-2.4},{"i":6,"j":18,"z":-3.4},{"i":6,"j":17,"z":-4},{"i":6,"j":16,"z":-4.4},{"i":6,"j":15,"z":-4.4},{"i":6,"j":14,"z":-4},{"i":6,"j":13,"z":-3.4},{"i":6,"j":12,"z":-2.4},{"i":6,"j":11,"z":-1},{"i":6,"j":10,"z":0.6},{"i":6,"j":9,"z":2.6},{"i":6,"j":8,"z":5},{"i":6,"j":7,"z":7.6},{"i":6,"j":6,"z":10.6},{"i":6,"j":5,"z":14},{"i":6,"j":4,"z":17.6},{"i":6,"j":3,"z":21.6},{"i":6,"j":2,"z":25.9},{"i":6,"j":1,"z":30.6},{"i":6,"j":0,"z":35.6},
{"i":5,"j":31,"z":38.9},{"i":5,"j":30,"z":33.9},{"i":5,"j":29,"z":29.2},{"i":5,"j":28,"z":24.9},{"i":5,"j":27,"z":20.9},{"i":5,"j":26,"z":17.3},{"i":5,"j":25,"z":13.9},{"i":5,"j":24,"z":10.9},{"i":5,"j":23,"z":8.3},{"i":5,"j":22,"z":5.9},{"i":5,"j":21,"z":3.9},{"i":5,"j":20,"z":2.3},{"i":5,"j":19,"z":0.9},{"i":5,"j":18,"z":-0.1},{"i":5,"j":17,"z":-0.7},{"i":5,"j":16,"z":-1.1},{"i":5,"j":15,"z":-1.1},{"i":5,"j":14,"z":-0.7},{"i":5,"j":13,"z":-0.1},{"i":5,"j":12,"z":0.9},{"i":5,"j":11,"z":2.3},{"i":5,"j":10,"z":3.9},{"i":5,"j":9,"z":5.9},{"i":5,"j":8,"z":8.3},{"i":5,"j":7,"z":10.9},{"i":5,"j":6,"z":13.9},{"i":5,"j":5,"z":17.3},{"i":5,"j":4,"z":20.9},{"i":5,"j":3,"z":24.9},{"i":5,"j":2,"z":29.2},{"i":5,"j":1,"z":33.9},{"i":5,"j":0,"z":38.9},
{"i":4,"j":31,"z":42.5},{"i":4,"j":30,"z":37.5},{"i":4,"j":29,"z":32.8},{"i":4,"j":28,"z":28.5},{"i":4,"j":27,"z":24.5},{"i":4,"j":26,"z":20.9},{"i":4,"j":25,"z":17.5},{"i":4,"j":24,"z":14.5},{"i":4,"j":23,"z":11.9},{"i":4,"j":22,"z":9.5},{"i":4,"j":21,"z":7.5},{"i":4,"j":20,"z":5.9},{"i":4,"j":19,"z":4.5},{"i":4,"j":18,"z":3.5},{"i":4,"j":17,"z":2.9},{"i":4,"j":16,"z":2.5},{"i":4,"j":15,"z":2.5},{"i":4,"j":14,"z":2.9},{"i":4,"j":13,"z":3.5},{"i":4,"j":12,"z":4.5},{"i":4,"j":11,"z":5.9},{"i":4,"j":10,"z":7.5},{"i":4,"j":9,"z":9.5},{"i":4,"j":8,"z":11.9},{"i":4,"j":7,"z":14.5},{"i":4,"j":6,"z":17.5},{"i":4,"j":5,"z":20.9},{"i":4,"j":4,"z":24.5},{"i":4,"j":3,"z":28.5},{"i":4,"j":2,"z":32.8},{"i":4,"j":1,"z":37.5},{"i":4,"j":0,"z":42.5},
{"i":3,"j":31,"z":46.4},{"i":3,"j":30,"z":41.4},{"i":3,"j":29,"z":36.7},{"i":3,"j":28,"z":32.4},{"i":3,"j":27,"z":28.4},{"i":3,"j":26,"z":24.8},{"i":3,"j":25,"z":21.4},{"i":3,"j":24,"z":18.4},{"i":3,"j":23,"z":15.8},{"i":3,"j":22,"z":13.4},{"i":3,"j":21,"z":11.4},{"i":3,"j":20,"z":9.8},{"i":3,"j":19,"z":8.4},{"i":3,"j":18,"z":7.4},{"i":3,"j":17,"z":6.8},{"i":3,"j":16,"z":6.4},{"i":3,"j":15,"z":6.4},{"i":3,"j":14,"z":6.8},{"i":3,"j":13,"z":7.4},{"i":3,"j":12,"z":8.4},{"i":3,"j":11,"z":9.8},{"i":3,"j":10,"z":11.4},{"i":3,"j":9,"z":13.4},{"i":3,"j":8,"z":15.8},{"i":3,"j":7,"z":18.4},{"i":3,"j":6,"z":21.4},{"i":3,"j":5,"z":24.8},{"i":3,"j":4,"z":28.4},{"i":3,"j":3,"z":32.4},{"i":3,"j":2,"z":36.7},{"i":3,"j":1,"z":41.4},{"i":3,"j":0,"z":46.4},
{"i":2,"j":31,"z":50.6},{"i":2,"j":30,"z":45.6},{"i":2,"j":29,"z":40.9},{"i":2,"j":28,"z":36.6},{"i":2,"j":27,"z":32.6},{"i":2,"j":26,"z":29},{"i":2,"j":25,"z":25.6},{"i":2,"j":24,"z":22.6},{"i":2,"j":23,"z":20},{"i":2,"j":22,"z":17.6},{"i":2,"j":21,"z":15.6},{"i":2,"j":20,"z":14},{"i":2,"j":19,"z":12.6},{"i":2,"j":18,"z":11.6},{"i":2,"j":17,"z":11},{"i":2,"j":16,"z":10.6},{"i":2,"j":15,"z":10.6},{"i":2,"j":14,"z":11},{"i":2,"j":13,"z":11.6},{"i":2,"j":12,"z":12.6},{"i":2,"j":11,"z":14},{"i":2,"j":10,"z":15.6},{"i":2,"j":9,"z":17.6},{"i":2,"j":8,"z":20},{"i":2,"j":7,"z":22.6},{"i":2,"j":6,"z":25.6},{"i":2,"j":5,"z":29},{"i":2,"j":4,"z":32.6},{"i":2,"j":3,"z":36.6},{"i":2,"j":2,"z":40.9},{"i":2,"j":1,"z":45.6},{"i":2,"j":0,"z":50.6},
{"i":1,"j":31,"z":55.2},{"i":1,"j":30,"z":50.2},{"i":1,"j":29,"z":45.5},{"i":1,"j":28,"z":41.2},{"i":1,"j":27,"z":37.2},{"i":1,"j":26,"z":33.6},{"i":1,"j":25,"z":30.2},{"i":1,"j":24,"z":27.2},{"i":1,"j":23,"z":24.6},{"i":1,"j":22,"z":22.2},{"i":1,"j":21,"z":20.2},{"i":1,"j":20,"z":18.6},{"i":1,"j":19,"z":17.2},{"i":1,"j":18,"z":16.2},{"i":1,"j":17,"z":15.6},{"i":1,"j":16,"z":15.2},{"i":1,"j":15,"z":15.2},{"i":1,"j":14,"z":15.6},{"i":1,"j":13,"z":16.2},{"i":1,"j":12,"z":17.2},{"i":1,"j":11,"z":18.6},{"i":1,"j":10,"z":20.2},{"i":1,"j":9,"z":22.2},{"i":1,"j":8,"z":24.6},{"i":1,"j":7,"z":27.2},{"i":1,"j":6,"z":30.2},{"i":1,"j":5,"z":33.6},{"i":1,"j":4,"z":37.2},{"i":1,"j":3,"z":41.2},{"i":1,"j":2,"z":45.5},{"i":1,"j":1,"z":50.2},{"i":1,"j":0,"z":55.2},
{"i":0,"j":31,"z":60},{"i":0,"j":30,"z":55},{"i":0,"j":29,"z":50.3},{"i":0,"j":28,"z":46},{"i":0,"j":27,"z":42},{"i":0,"j":26,"z":38.4},{"i":0,"j":25,"z":35},{"i":0,"j":24,"z":32},{"i":0,"j":23,"z":29.4},{"i":0,"j":22,"z":27},{"i":0,"j":21,"z":25},{"i":0,"j":20,"z":23.4},{"i":0,"j":19,"z":22},{"i":0,"j":18,"z":21},{"i":0,"j":17,"z":20.4},{"i":0,"j":16,"z":20},{"i":0,"j":15,"z":20},{"i":0,"j":14,"z":20.4},{"i":0,"j":13,"z":21},{"i":0,"j":12,"z":22},{"i":0,"j":11,"z":23.4},{"i":0,"j":10,"z":25},{"i":0,"j":9,"z":27},{"i":0,"j":8,"z":29.4},{"i":0,"j":7,"z":32},{"i":0,"j":6,"z":35},{"i":0,"j":5,"z":38.4},{"i":0,"j":4,"z":42},{"i":0,"j":3,"z":46},{"i":0,"j":2,"z":50.3},{"i":0,"j":1,"z":55},{"i":0,"j":0,"z":60}
]},
"encoding":{
"x":{"field":"sx","type":"quantitative","axis":null,"scale":{"domain":[0,598]}},
"y":{"field":"sy","type":"quantitative","axis":null,"scale":{"domain":[532,0]}}},
"layer":[
{"data":{"name":"lines"},"transform":[{"filter":"datum.k=='g'"},
{"calculate":"255+284.3*datum.u-218.3*datum.v","as":"sx"},{"calculate":"475.7-76.4*datum.u-100.7*datum.v-2.73*(datum.w+20)","as":"sy"},
{"calculate":"255+284.3*datum.u2-218.3*datum.v2","as":"sx2"},{"calculate":"475.7-76.4*datum.u2-100.7*datum.v2-2.73*(datum.w2+20)","as":"sy2"}],
"mark":{"type":"rule","stroke":"#444444","strokeWidth":0.7,"strokeDash":[1,5]},
"encoding":{"x2":{"field":"sx2"},"y2":{"field":"sy2"}}},
{"data":{"name":"lines"},"transform":[{"filter":"datum.k=='a'"},
{"calculate":"255+284.3*datum.u-218.3*datum.v","as":"sx"},{"calculate":"475.7-76.4*datum.u-100.7*datum.v-2.73*(datum.w+20)","as":"sy"},
{"calculate":"255+284.3*datum.u2-218.3*datum.v2","as":"sx2"},{"calculate":"475.7-76.4*datum.u2-100.7*datum.v2-2.73*(datum.w2+20)","as":"sy2"}],
"mark":{"type":"rule","stroke":"#262626","strokeWidth":0.8},
"encoding":{"x2":{"field":"sx2"},"y2":{"field":"sy2"}}},
{"data":{"name":"grid"},"transform":[
{"calculate":"[(datum.i<32&&datum.j<31)?(datum.i*100+datum.j)*20:-1,(datum.i<32&&datum.j<31)?(datum.i*100+datum.j)*20+3:-1,(datum.i<32&&datum.j<31)?(datum.i*100+datum.j)*20+10:-1,(datum.i<32&&datum.j<31)?(datum.i*100+datum.j)*20+13:-1,(datum.i>0&&datum.j<31)?((datum.i-1)*100+datum.j)*20+1:-1,(datum.i>0&&datum.j>0)?((datum.i-1)*100+datum.j-1)*20+2:-1,(datum.i>0&&datum.j>0)?((datum.i-1)*100+datum.j-1)*20+11:-1,(datum.j>0&&datum.i<32)?(datum.i*100+datum.j-1)*20+12:-1]","as":"t"},
{"flatten":["t"]},{"filter":"datum.t>=0"},
{"calculate":"floor(datum.t/10)","as":"tri"},{"calculate":"datum.t%10","as":"k"},
{"joinaggregate":[{"op":"mean","field":"z","as":"mz"}],"groupby":["tri"]},
{"calculate":"255+284.3*datum.i/32-218.3*datum.j/31","as":"sx"},{"calculate":"475.7-76.4*datum.i/32-100.7*datum.j/31-2.73*(datum.z+20)","as":"sy"}],
"mark":{"type":"line","fill":"white","strokeWidth":0.8,"strokeJoin":"round","interpolate":"linear"},
"encoding":{"detail":{"field":"tri","type":"nominal"},"order":{"field":"k","type":"quantitative"},
"stroke":{"field":"mz","type":"quantitative","legend":null,"scale":{"domain":[-20,60],"range":["#0000ff","#00ff80"],"interpolate":"rgb"}}}},
{"data":{"name":"labels"},"transform":[{"filter":"datum.axis=='x'"},{"calculate":"255+284.3*datum.u-218.3*datum.v","as":"sx"},{"calculate":"475.7-76.4*datum.u-100.7*datum.v-2.73*(datum.w+20)","as":"sy"}],
"mark":{"type":"text","font":"Liberation Sans","fontSize":13.5,"align":"left","baseline":"middle","dx":10,"dy":13,"fill":"#262626"},"encoding":{"text":{"field":"t"}}},
{"data":{"name":"labels"},"transform":[{"filter":"datum.axis=='y'"},{"calculate":"255+284.3*datum.u-218.3*datum.v","as":"sx"},{"calculate":"475.7-76.4*datum.u-100.7*datum.v-2.73*(datum.w+20)","as":"sy"}],
"mark":{"type":"text","font":"Liberation Sans","fontSize":13.5,"align":"right","baseline":"middle","dx":-10,"dy":11.5,"fill":"#262626"},"encoding":{"text":{"field":"t"}}},
{"data":{"name":"labels"},"transform":[{"filter":"datum.axis=='z'"},{"calculate":"255+284.3*datum.u-218.3*datum.v","as":"sx"},{"calculate":"475.7-76.4*datum.u-100.7*datum.v-2.73*(datum.w+20)","as":"sy"}],
"mark":{"type":"text","font":"Liberation Sans","fontSize":13.5,"align":"right","baseline":"middle","dx":-10,"dy":-4,"fill":"#262626"},"encoding":{"text":{"field":"t"}}},
{"data":{"name":"labels"},"transform":[{"filter":"datum.axis=='t'"},{"calculate":"255+284.3*datum.u-218.3*datum.v","as":"sx"},{"calculate":"475.7-76.4*datum.u-100.7*datum.v-2.73*(datum.w+20)","as":"sy"}],
"mark":{"type":"text","font":"Liberation Serif","fontStyle":"italic","fontSize":20,"align":"center","baseline":"alphabetic","dx":-33.5,"dy":8,"fill":"#262626"},"encoding":{"text":{"field":"t"}}},
{"data":{"name":"labels"},"transform":[{"filter":"datum.axis=='s'"},{"calculate":"255+284.3*datum.u-218.3*datum.v","as":"sx"},{"calculate":"475.7-76.4*datum.u-100.7*datum.v-2.73*(datum.w+20)","as":"sy"}],
"mark":{"type":"text","font":"Liberation Serif","fontSize":13,"align":"center","baseline":"alphabetic","dx":-26,"dy":11,"fill":"#262626"},"encoding":{"text":{"field":"t"}}}
]}
